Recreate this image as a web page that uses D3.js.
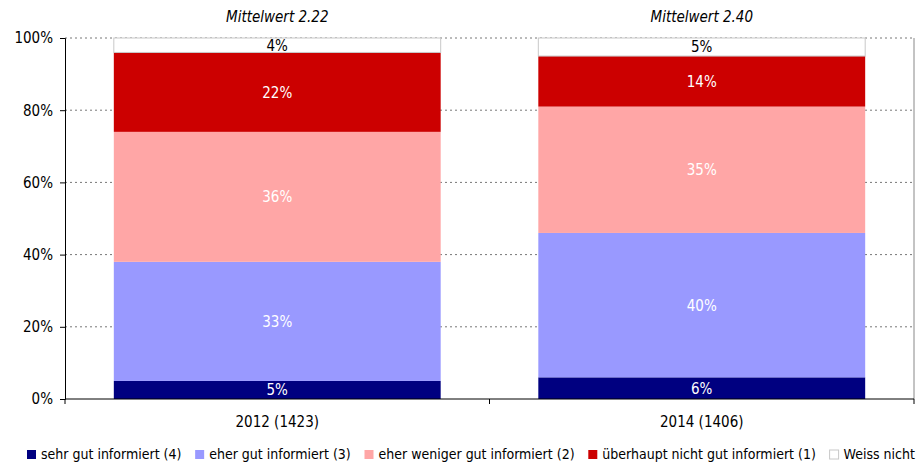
<!DOCTYPE html>
<html>
<head>
<meta charset="utf-8">
<script src="https://cdn.jsdelivr.net/npm/d3@7"></script>
<style>
  body { margin: 0; background: #fff; }
  text { font-family: "DejaVu Sans Condensed", "DejaVu Sans", sans-serif; }
</style>
</head>
<body>
<svg id="viz"></svg>
<script>
const WIDTH = 921
const HEIGHT = 468
const FONT = '"DejaVu Sans Condensed", "DejaVu Sans", sans-serif'

const categories = ['2012 (1423)', '2014 (1406)']
const means = ['Mittelwert 2.22', 'Mittelwert 2.40']
const seriesNames = [
    'sehr gut informiert (4)',
    'eher gut informiert (3)',
    'eher weniger gut informiert (2)',
    'überhaupt nicht gut informiert (1)',
    'Weiss nicht'
]
const sehrGut = [5, 6]
const eherGut = [33, 40]
const eherWeniger = [36, 35]
const ueberhauptNicht = [22, 14]
const weissNicht = [4, 5]
const yTicks = [0, 20, 40, 60, 80, 100]

const COLORS = ['#000080', '#9999ff', '#ffa6a6', '#cc0000', '#ffffff']
const TEXT_COLORS = ['#fff', '#fff', '#fff', '#fff', '#000']

const margin = { top: 38, right: 7, bottom: 69, left: 65 }
const innerW = WIDTH - margin.left - margin.right
const innerH = HEIGHT - margin.top - margin.bottom

const rows = categories.map((cat, i) => ({
    cat,
    mean: means[i],
    s0: sehrGut[i], s1: eherGut[i], s2: eherWeniger[i], s3: ueberhauptNicht[i], s4: weissNicht[i]
}))
const keys = ['s0', 's1', 's2', 's3', 's4']
const stacked = d3.stack().keys(keys)(rows)

const svg = d3.select('#viz').attr('width', WIDTH).attr('height', HEIGHT)
const g = svg.append('g').attr('transform', `translate(${margin.left},${margin.top})`)

const x = d3.scaleBand().domain(categories).range([0, innerW]).paddingInner(0.23).paddingOuter(0.115)
const y = d3.scaleLinear().domain([0, 100]).range([innerH, 0])

// gridlines
g.selectAll('.grid')
    .data(yTicks.filter(t => t > 0))
    .enter().append('line')
    .attr('x1', 0).attr('x2', innerW)
    .attr('y1', d => y(d)).attr('y2', d => y(d))
    .attr('stroke', '#777')
    .attr('stroke-dasharray', '2,3')

// right border
g.append('line')
    .attr('x1', innerW).attr('x2', innerW)
    .attr('y1', 0).attr('y2', innerH)
    .attr('stroke', '#888')

// bars
const layer = g.selectAll('.layer')
    .data(stacked)
    .enter().append('g')
    .attr('fill', (d, i) => COLORS[i])
    .attr('stroke', (d, i) => i === 4 ? '#c8c8c8' : 'none')

layer.selectAll('rect')
    .data(d => d)
    .enter().append('rect')
    .attr('x', d => x(d.data.cat))
    .attr('width', x.bandwidth())
    .attr('y', d => y(d[1]))
    .attr('height', d => y(d[0]) - y(d[1]))

layer.selectAll('text')
    .data((d, i) => d.map(p => ({ p, i })))
    .enter().append('text')
    .attr('x', ({p}) => x(p.data.cat) + x.bandwidth() / 2)
    .attr('y', ({p}) => (y(p[0]) + y(p[1])) / 2)
    .attr('dy', '0.36em')
    .attr('text-anchor', 'middle')
    .attr('font-size', 15)
    .attr('stroke', 'none')
    .attr('fill', ({i}) => TEXT_COLORS[i])
    .text(({p}) => (p[1] - p[0]) + '%')

// mean labels
g.selectAll('.mean')
    .data(rows)
    .enter().append('text')
    .attr('x', d => x(d.cat) + x.bandwidth() / 2)
    .attr('y', -16)
    .attr('text-anchor', 'middle')
    .attr('font-size', 15)
    .attr('font-style', 'italic')
    .text(d => d.mean)

// y axis
const yAxis = g.append('g')
    .call(d3.axisLeft(y).tickValues(yTicks).tickFormat(d => d + '%').tickSize(5).tickPadding(7))
yAxis.select('.domain').attr('stroke', '#000')
yAxis.selectAll('text').attr('font-size', 15).attr('fill', '#000').style('font-family', FONT)

// x axis: ticks at the edges and between the categories
const mid = (x(categories[0]) + x.bandwidth() + x(categories[1])) / 2
const xAxis = g.append('g').attr('transform', `translate(0,${innerH})`)
xAxis.append('line').attr('x1', 0).attr('x2', innerW).attr('stroke', '#000')
xAxis.selectAll('.tk')
    .data([0, mid, innerW])
    .enter().append('line')
    .attr('x1', d => d).attr('x2', d => d)
    .attr('y1', 0).attr('y2', 5)
    .attr('stroke', '#000')
xAxis.selectAll('.xl')
    .data(categories)
    .enter().append('text')
    .attr('x', d => x(d) + x.bandwidth() / 2)
    .attr('y', 28)
    .attr('text-anchor', 'middle')
    .attr('font-size', 15)
    .text(d => d)

// legend
const legend = svg.append('g').attr('transform', 'translate(0,459)')
const items = legend.selectAll('.item')
    .data(seriesNames)
    .enter().append('g')
items.append('rect')
    .attr('width', 9).attr('height', 9).attr('y', -9)
    .attr('fill', (d, i) => COLORS[i])
    .attr('stroke', (d, i) => i === 4 ? '#c8c8c8' : 'none')
items.append('text')
    .attr('x', 14)
    .attr('font-size', 14)
    .text(d => d)
let pos = 0
const positions = []
items.each(function () {
    positions.push(pos)
    pos += this.getBBox().width
})
const start = 27
const gap = Math.max(8, (915 - start - pos) / 4)
items.attr('transform', (d, i) => `translate(${start + positions[i] + i * gap},0)`)
</script>
</body>
</html>
